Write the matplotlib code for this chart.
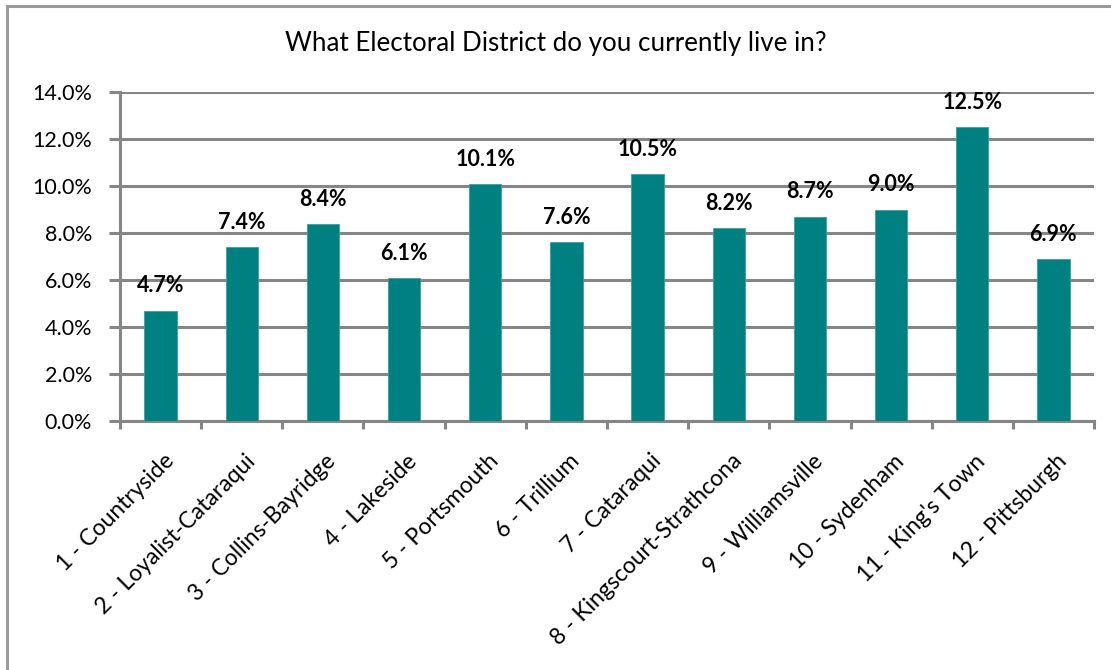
import matplotlib
matplotlib.use("Agg")
import matplotlib.pyplot as plt
from matplotlib.patches import Rectangle
from matplotlib.ticker import FuncFormatter

districts = [
    "1 - Countryside", "2 - Loyalist-Cataraqui", "3 - Collins-Bayridge",
    "4 - Lakeside", "5 - Portsmouth", "6 - Trillium", "7 - Cataraqui",
    "8 - Kingscourt-Strathcona", "9 - Williamsville", "10 - Sydenham",
    "11 - King's Town", "12 - Pittsburgh",
]
share_pct = [4.7, 7.4, 8.4, 6.1, 10.1, 7.6, 10.5, 8.2, 8.7, 9.0, 12.5, 6.9]
y_ticks = [0, 2, 4, 6, 8, 10, 12, 14]
title = "What Electoral District do you currently live in?"

plt.rcParams["font.family"] = ["Lato", "DejaVu Sans"]

W, H = 1111, 670
fig = plt.figure(figsize=(W / 100, H / 100), dpi=100)
ax = fig.add_axes([120 / W, 1 - 421 / H, (1094 - 120) / W, (421 - 92) / H])

grey = "#868686"
teal = "#008080"

x = list(range(len(districts)))
ax.bar(x, share_pct, width=0.4, color=teal, edgecolor="#3aa0a0", linewidth=0.6, zorder=3)

for xi, v in zip(x, share_pct):
    ax.annotate(f"{v:.1f}%", (xi, v), xytext=(0, 13), textcoords="offset points",
                ha="center", va="baseline", fontsize=15.5, fontweight="bold", color="black")

ax.set_xlim(-0.5, len(districts) - 0.5)
ax.set_ylim(0, 14)
ax.set_yticks(y_ticks)
ax.yaxis.set_major_formatter(FuncFormatter(lambda v, p: f"{v:.1f}%"))
ax.grid(axis="y", color=grey, linewidth=2.2, zorder=0)
ax.set_axisbelow(True)

# category boundaries as x ticks
ax.set_xticks([i - 0.5 for i in range(len(districts) + 1)], minor=False)
ax.set_xticklabels([])
ax.tick_params(axis="x", direction="out", length=6, width=2.2, color=grey)
ax.tick_params(axis="y", direction="out", length=8, width=2.2, color=grey,
               labelsize=15.5, pad=12)

for s in ("top", "right"):
    ax.spines[s].set_visible(False)
for s in ("left", "bottom"):
    ax.spines[s].set_color(grey)
    ax.spines[s].set_linewidth(2.2)

for xi, name in zip(x, districts):
    ax.annotate(name, (xi, 0), xytext=(7, -26.5), textcoords="offset points",
                rotation=45, rotation_mode="anchor", ha="right", va="center",
                fontsize=16.5, color="black")

fig.text(0.5, 1 - 44 / H, title, ha="center", va="center", fontsize=18.7, color="black")

# outer chart frame
fig.patches.append(Rectangle((7 / W, -0.1), 1.2, 1 - 6 / H + 0.1, transform=fig.transFigure,
                             fill=False, edgecolor="#9a9a9a", linewidth=2.2))

fig.savefig("out.png", dpi=100)
